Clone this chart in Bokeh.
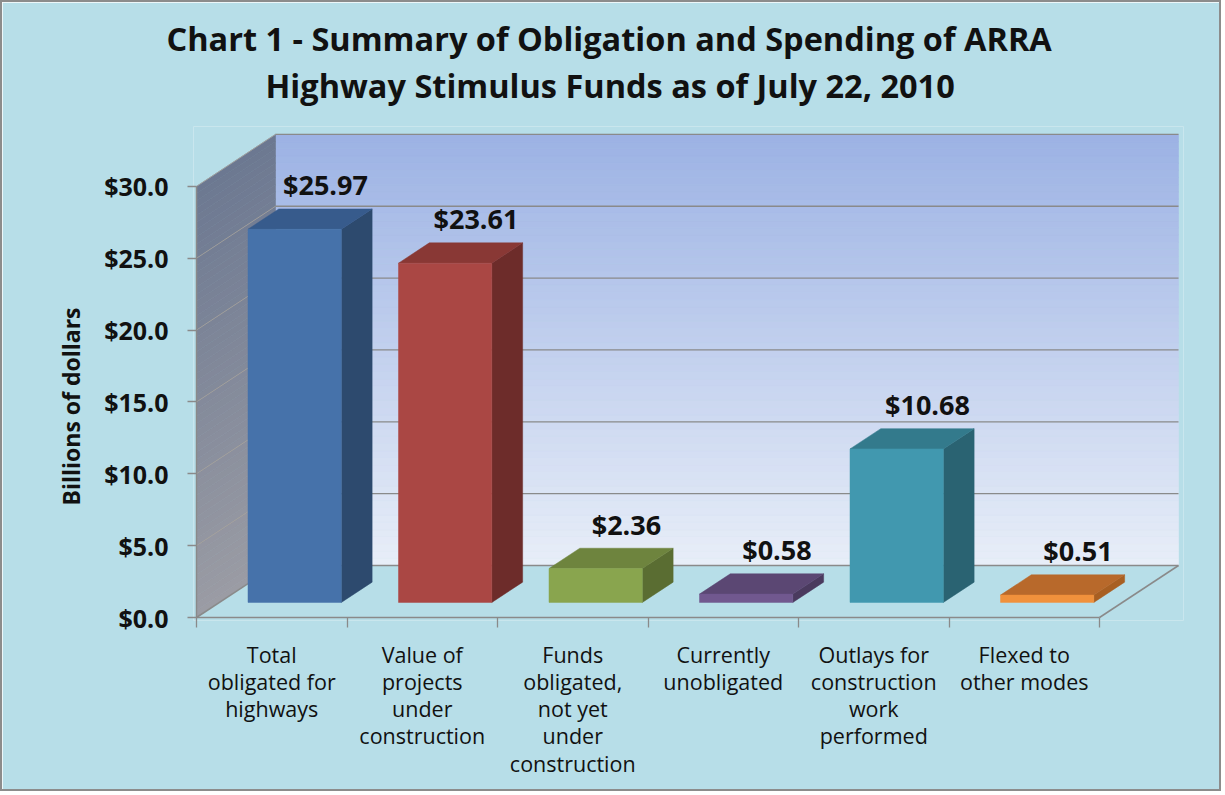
from bokeh.plotting import figure
from bokeh.models import Range1d, FixedTicker, NumeralTickFormatter, Title
from bokeh.embed import file_html
from bokeh.resources import INLINE
from bokeh.core.properties import value

# ---------------- data ----------------
title_lines = ["Chart 1 - Summary of Obligation and Spending of ARRA",
               "Highway Stimulus Funds as of July 22, 2010"]
categories = ["Total\nobligated for\nhighways",
              "Value of\nprojects\nunder\nconstruction",
              "Funds\nobligated,\nnot yet\nunder\nconstruction",
              "Currently\nunobligated",
              "Outlays for\nconstruction\nwork\nperformed",
              "Flexed to\nother modes"]
values = [25.97, 23.61, 2.36, 0.58, 10.68, 0.51]
value_labels = ["$25.97", "$23.61", "$2.36", "$0.58", "$10.68", "$0.51"]
y_ticks = [0, 5, 10, 15, 20, 25, 30]
y_label = "Billions of dollars"

front_colors = ["#4672AA", "#AA4744", "#89A54E", "#71588F", "#4198AF", "#F0913C"]
side_colors = ["#2D4A6E", "#6D2C2A", "#5A6D32", "#4A3A5E", "#2A6372", "#A85F22"]
top_colors = ["#375B8C", "#893835", "#6E843E", "#5B4773", "#337A8C", "#B8692B"]

# ---------------- geometry / style ----------------
B = 2                       # page border width (css)
W, H = 1225 - 2 * B, 795 - 2 * B
OX, OY = 196 - B, 617 - B   # canvas position of the front-bottom-left corner
PXU, PXV = 150.5, 14.37     # px per category, px per billion
FL, FR, FT, FB = 193 - B, 1183 - B, 126 - B, 620 - B
DX, DY = 79 / PXU, 52 / PXV  # depth offset in data units
YMAX = 30
NCAT = len(values)
BG = "#B7DEE8"
GRID = "#8A8A8A"
TITLE_FONT = "32.5px"


def su(sx):
    return (sx - OX) / PXU


def sv(sy):
    return (OY - sy) / PXV


def lerp_color(c1, c2, t):
    a = [int(c1[i:i + 2], 16) for i in (1, 3, 5)]
    b = [int(c2[i:i + 2], 16) for i in (1, 3, 5)]
    return "#%02x%02x%02x" % tuple(round(a[k] + (b[k] - a[k]) * t) for k in range(3))


p = figure(width=W, height=H, title=None,
           x_range=Range1d(su(FL), su(FR)), y_range=Range1d(sv(FB), sv(FT)),
           output_backend="svg", toolbar_location=None,
           min_border_left=FL, min_border_right=W - FR,
           min_border_top=FT, min_border_bottom=H - FB,
           styles={"border": "%dpx solid #8C8C8C" % B})
p.background_fill_color = BG
p.border_fill_color = BG
p.outline_line_color = None
p.xgrid.visible = False
p.ygrid.visible = False

# ---- back wall (vertical gradient) ----
N = 60
bw_bottom, bw_top, bw_col = [], [], []
for k in range(N):
    a = DY + YMAX * k / N
    b = DY + YMAX * (k + 1) / N
    bw_bottom.append(a)
    bw_top.append(b)
    bw_col.append(lerp_color("#E8EEF8", "#9CB2E4", (k + 0.5) / N))
p.quad(left=DX, right=NCAT + DX, bottom=bw_bottom, top=bw_top,
       fill_color=bw_col, line_color=bw_col, line_width=0.6)

# ---- side wall (gradient) ----
sxs, sys, scol = [], [], []
for k in range(N):
    a = YMAX * k / N
    b = YMAX * (k + 1) / N
    sxs.append([0, 0, DX, DX])
    sys.append([a, b, b + DY, a + DY])
    scol.append(lerp_color("#9B9CA4", "#6C7891", (k + 0.5) / N))
p.patches(sxs, sys, fill_color=scol, line_color=scol, line_width=0.6)

# ---- floor ----
p.patch([0, NCAT, NCAT + DX, DX], [0, 0, DY, DY], fill_color=BG, line_color=None)

# ---- grid lines ----
gx, gy = [], []
for t in y_ticks:
    gx.append([DX, NCAT + DX])
    gy.append([t + DY, t + DY])
p.multi_line(gx, gy, line_color=GRID, line_width=1.3)
dxs, dys = [], []
for t in y_ticks[1:]:
    dxs.append([0, DX])
    dys.append([t, t + DY])
p.multi_line(dxs, dys, line_color="#A7A39B", line_width=1, line_alpha=0.8)
p.multi_line([[0, NCAT], [NCAT, NCAT + DX], [0, DX], [0, 0]],
             [[0, 0], [0, DY], [0, DY], [0, YMAX]],
             line_color=GRID, line_width=1.5)

# ---- bars ----
D0, D1 = 0.29, 0.68
HALF = 0.31
fx, fy, rx, ry, tx, ty = [], [], [], [], [], []
for i, h in enumerate(values):
    c = i + 0.5
    u0, u1 = c - HALF, c + HALF
    fx.append([u0 + D0 * DX, u1 + D0 * DX, u1 + D0 * DX, u0 + D0 * DX])
    fy.append([D0 * DY, D0 * DY, h + D0 * DY, h + D0 * DY])
    rx.append([u1 + D0 * DX, u1 + D1 * DX, u1 + D1 * DX, u1 + D0 * DX])
    ry.append([D0 * DY, D1 * DY, h + D1 * DY, h + D0 * DY])
    tx.append([u0 + D0 * DX, u1 + D0 * DX, u1 + D1 * DX, u0 + D1 * DX])
    ty.append([h + D0 * DY, h + D0 * DY, h + D1 * DY, h + D1 * DY])
p.patches(rx, ry, fill_color=side_colors, line_color=side_colors, line_width=0.5)
p.patches(tx, ty, fill_color=top_colors, line_color=top_colors, line_width=0.5)
p.patches(fx, fy, fill_color=front_colors, line_color=front_colors, line_width=0.5)

# ---- value labels ----
lx = [i + 0.5 + D1 * DX for i in range(NCAT)]
ly = [h + D1 * DY for h in values]
p.text(x=lx, y=ly, text=value_labels, text_align="center", text_baseline="middle",
       y_offset=-24, text_font=value("Open Sans"), text_font_style="bold",
       text_font_size="27px", text_color="#111111")

# ---- axes ----
xa = p.xaxis[0]
xa.ticker = FixedTicker(ticks=[i + 0.5 for i in range(NCAT)], minor_ticks=list(range(NCAT + 1)))
xa.major_label_overrides = {i + 0.5: categories[i] for i in range(NCAT)}
xa.axis_line_color = None
xa.major_tick_in = 0
xa.major_tick_out = 0
xa.minor_tick_in = 3
xa.minor_tick_out = 7
xa.minor_tick_line_color = GRID
xa.minor_tick_line_width = 1.3
xa.major_label_standoff = 12
xa.major_label_text_font = "Open Sans"
xa.major_label_text_font_size = "21.5px"
xa.major_label_text_color = "#111111"
xa.major_label_text_line_height = 0.94

ya = p.yaxis[0]
ya.ticker = FixedTicker(ticks=y_ticks)
ya.formatter = NumeralTickFormatter(format="$0.0")
ya.axis_line_color = None
ya.major_tick_in = 3
ya.major_tick_out = 6
ya.major_tick_line_color = GRID
ya.major_tick_line_width = 1.3
ya.minor_tick_line_color = None
ya.major_label_standoff = 19
ya.major_label_text_font = "Open Sans"
ya.major_label_text_font_style = "bold"
ya.major_label_text_font_size = "25px"
ya.major_label_text_color = "#111111"

# ---- y axis title (rotated, in the left panel) ----
p.add_layout(Title(text=y_label, align="left", offset=115, standoff=30,
                   text_font="Open Sans", text_font_style="bold",
                   text_font_size="23px", text_color="#111111"), "left")

# ---- chart title: spacer next to the frame, then line 2, then line 1 ----
p.add_layout(Title(text=" ", standoff=16, text_font_size="1px"), "above")
p.add_layout(Title(text=title_lines[1], align="left", offset=72, standoff=0,
                   text_font="Open Sans", text_font_style="bold",
                   text_font_size=TITLE_FONT, text_color="#111111"), "above")
p.add_layout(Title(text=title_lines[0], align="left", offset=-27, standoff=0,
                   text_font="Open Sans", text_font_style="bold",
                   text_font_size=TITLE_FONT, text_color="#111111"), "above")

open("out.html", "w").write(file_html(p, INLINE))
